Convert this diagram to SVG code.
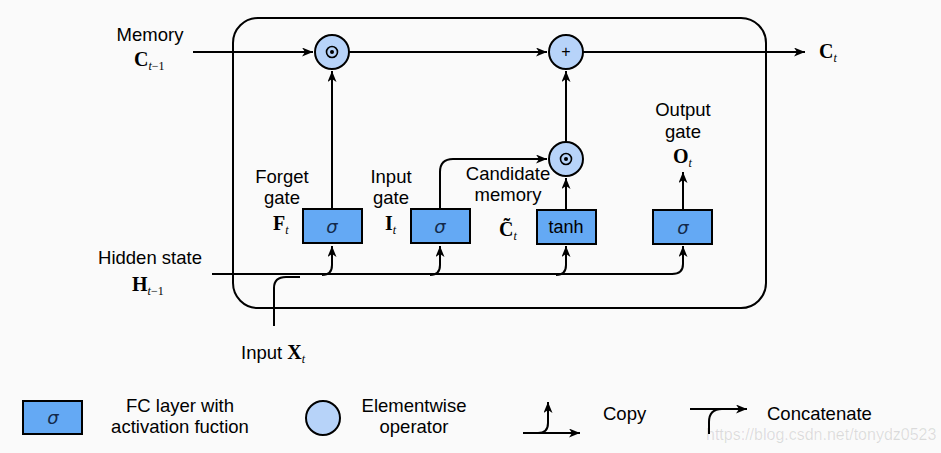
<svg xmlns="http://www.w3.org/2000/svg" width="941" height="453" viewBox="0 0 941 453">
<defs>
<marker id="ah" markerUnits="userSpaceOnUse" markerWidth="12" markerHeight="10" refX="11" refY="4.5" orient="auto">
<path d="M0,0 L11,4.5 L0,9 L3,4.5 z" fill="#000"/>
</marker>
<style>
.lbl{font-family:"Liberation Sans",Arial,sans-serif;font-size:18.5px;fill:#000;text-anchor:middle}
.lt{font-family:"Liberation Sans",Arial,sans-serif;font-size:18.5px;fill:#000}
.mv{font-family:"Liberation Serif","Times New Roman",serif;font-size:20px;font-weight:bold;fill:#000}
.sub{font-family:"Liberation Serif","Times New Roman",serif;font-size:12px;font-style:italic;font-weight:normal}
.subn{font-family:"Liberation Serif","Times New Roman",serif;font-size:12px;font-style:normal;font-weight:normal}
.box{fill:#64a9f4;stroke:#000;stroke-width:2}
.op{fill:#b7d3f9;stroke:#000;stroke-width:2}
.sig{font-family:"DejaVu Sans","Liberation Sans",sans-serif;font-size:18px;font-style:italic;fill:#13294b;text-anchor:middle}
.fn{font-family:"Liberation Sans",Arial,sans-serif;font-size:18px;fill:#000;text-anchor:middle}
.ln{fill:none;stroke:#000;stroke-width:2}
.arr{fill:none;stroke:#000;stroke-width:2;marker-end:url(#ah)}
</style>
</defs>
<rect width="941" height="453" fill="#fafafa"/>
<rect x="233" y="18" width="533" height="290" rx="25" ry="25" fill="none" stroke="#000" stroke-width="2"/>

<g id="connectors">
<path class="arr" d="M193,52 H313"/>
<path class="arr" d="M349,52 H547"/>
<path class="arr" d="M583,52 H805"/>
<path class="arr" d="M332,209 V71"/>
<path class="arr" d="M566,142 V71"/>
<path class="arr" d="M566,210 V178"/>
<path class="arr" d="M440,209 V172 Q440,159 453,159 H547"/>
<path class="arr" d="M683,210 V172"/>
<path class="ln" d="M212,274 H673"/>
<path class="ln" d="M274,326 V288 Q274,277 286,277 H300"/>
<path class="arr" d="M322,275 Q332,275 332,265 V246"/>
<path class="arr" d="M430,275 Q440,275 440,265 V246"/>
<path class="arr" d="M556,275 Q566,275 566,265 V246"/>
<path class="arr" d="M672,274 Q683,274 683,264 V246"/>
</g>

<g id="mult_forget">
<circle class="op" cx="332" cy="52" r="17"/>
<circle cx="332" cy="52" r="5.5" fill="none" stroke="#000" stroke-width="1.6"/>
<circle cx="332" cy="52" r="2" fill="#000"/>
</g>
<g id="add_memory">
<circle class="op" cx="566" cy="52" r="17"/>
<text class="fn" x="566" y="57" style="font-size:16px">+</text>
</g>
<g id="mult_input">
<circle class="op" cx="566" cy="159" r="17"/>
<circle cx="566" cy="159" r="5.5" fill="none" stroke="#000" stroke-width="1.6"/>
<circle cx="566" cy="159" r="2" fill="#000"/>
</g>

<g id="forget_gate">
<rect class="box" x="303" y="209" width="59" height="34"/>
<text class="sig" x="332" y="233">σ</text>
<text class="lbl" x="282" y="183">Forget</text>
<text class="lbl" x="282" y="204">gate</text>
<text class="mv" x="273" y="230">F<tspan class="sub" dy="4">t</tspan></text>
</g>
<g id="input_gate">
<rect class="box" x="411" y="209" width="59" height="34"/>
<text class="sig" x="440" y="233">σ</text>
<text class="lbl" x="391" y="183">Input</text>
<text class="lbl" x="391" y="204">gate</text>
<text class="mv" x="385" y="230">I<tspan class="sub" dy="4">t</tspan></text>
</g>
<g id="candidate">
<rect class="box" x="537" y="210" width="59" height="34"/>
<text class="fn" x="566" y="233">tanh</text>
<text class="lbl" x="508" y="180">Candidate</text>
<text class="lbl" x="508" y="201">memory</text>
<text class="mv" x="499" y="236">C̃<tspan class="sub" dy="4">t</tspan></text>
</g>
<g id="output_gate">
<rect class="box" x="653" y="210" width="59" height="34"/>
<text class="sig" x="683" y="234">σ</text>
<text class="lbl" x="683" y="116">Output</text>
<text class="lbl" x="683" y="138">gate</text>
<text class="mv" x="673" y="163">O<tspan class="sub" dy="4">t</tspan></text>
</g>

<g id="memory_in">
<text class="lbl" x="150" y="41">Memory</text>
<text class="mv" x="134" y="66">C<tspan class="sub" dy="4">t</tspan><tspan class="subn">−1</tspan></text>
</g>
<g id="memory_out">
<text class="mv" x="819" y="58">C<tspan class="sub" dy="4">t</tspan></text>
</g>
<g id="hidden_in">
<text class="lbl" x="150" y="264">Hidden state</text>
<text class="mv" x="132" y="291">H<tspan class="sub" dy="4">t</tspan><tspan class="subn">−1</tspan></text>
</g>
<g id="input_x">
<text class="lt" x="241" y="359">Input <tspan class="mv">X<tspan class="sub" dy="4">t</tspan></tspan></text>
</g>

<g id="legend">
<rect class="box" x="23" y="401" width="59" height="33"/>
<text class="sig" x="53" y="424">σ</text>
<text class="lbl" x="180" y="412">FC layer with</text>
<text class="lbl" x="180" y="433">activation fuction</text>
<circle class="op" cx="323" cy="418" r="17"/>
<text class="lbl" x="414" y="412">Elementwise</text>
<text class="lbl" x="414" y="433">operator</text>
<path class="arr" d="M523,433 H580"/>
<path class="arr" d="M538,433 Q548,433 548,423 V402"/>
<text class="lt" x="603" y="420">Copy</text>
<path class="arr" d="M690,409 H747"/>
<path class="ln" d="M709,434 V422 Q709,409 722,409"/>
<text class="lt" x="767" y="420">Concatenate</text>
<text x="706" y="440" style="font-family:'Liberation Sans',Arial,sans-serif;font-size:16px;fill:#000;fill-opacity:0.12">https://blog.csdn.net/tonydz0523</text>
</g>
</svg>
